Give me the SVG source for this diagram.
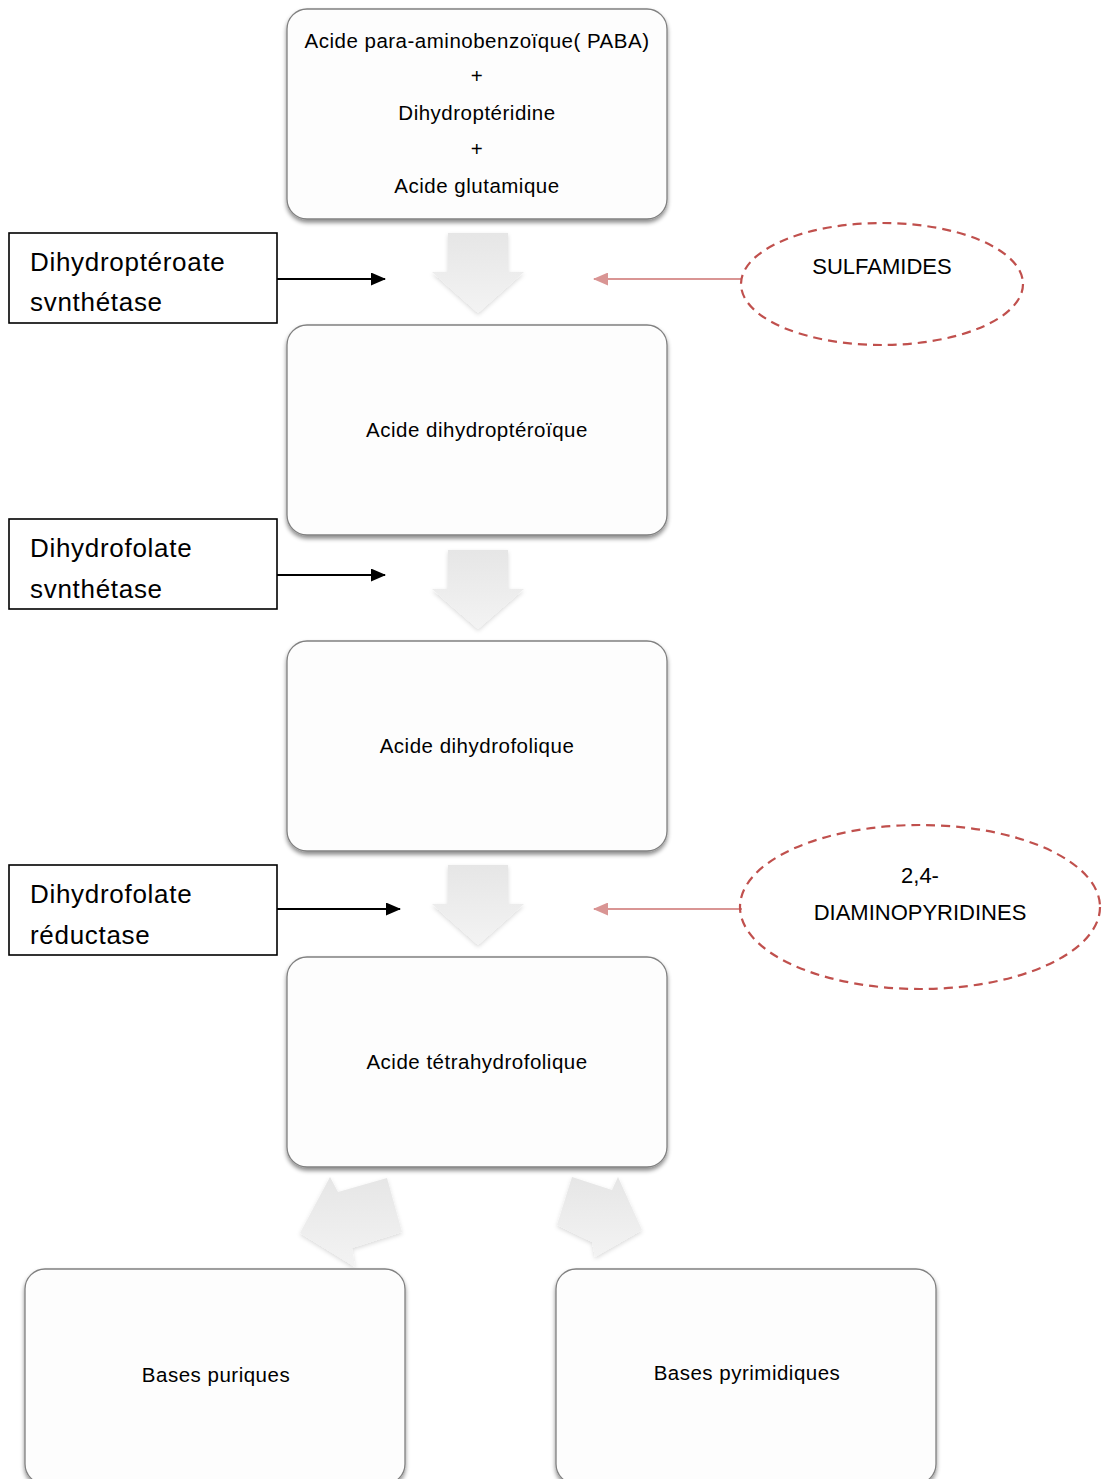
<svg xmlns="http://www.w3.org/2000/svg" width="1104" height="1479" viewBox="0 0 1104 1479">
<style>
.box{fill:#fdfdfd;stroke:#808080;stroke-width:1.3}
.bt{font-family:"Liberation Sans",Arial,sans-serif;font-size:20.5px;letter-spacing:0.5px;fill:#000;text-anchor:middle}
.lbl{fill:#fff;stroke:#000;stroke-width:1.6}
.lt{font-family:"Liberation Sans",Arial,sans-serif;font-size:26px;letter-spacing:0.7px;fill:#000}
.ell{fill:none;stroke:#c0504d;stroke-width:2.2;stroke-dasharray:9 6}
.et{font-family:"Liberation Sans",Arial,sans-serif;font-size:22px;fill:#000;text-anchor:middle}
.blk{stroke:#000;stroke-width:2;fill:none}
.pnk{stroke:#d99594;stroke-width:2.2;fill:none}
.barr{fill:url(#ag);filter:url(#sh2)}
</style>
<defs>
<filter id="sh" x="-5%" y="-5%" width="110%" height="115%">
<feDropShadow dx="0" dy="3" stdDeviation="2" flood-color="#000" flood-opacity="0.45"/>
</filter>
<filter id="sh2" x="-10%" y="-10%" width="130%" height="130%">
<feDropShadow dx="0" dy="2" stdDeviation="2" flood-color="#000" flood-opacity="0.15"/>
</filter>
<linearGradient id="ag" x1="0" y1="0" x2="0" y2="1">
<stop offset="0" stop-color="#e6e6e6"/>
<stop offset="1" stop-color="#f3f3f3"/>
</linearGradient>
<marker id="mb" markerWidth="15" markerHeight="13" refX="14" refY="6.5" orient="auto" markerUnits="userSpaceOnUse" viewBox="0 0 15 13">
<path d="M0,0 L15,6.5 L0,13 z" fill="#000"/>
</marker>
<marker id="mp" markerWidth="15" markerHeight="13" refX="14" refY="6.5" orient="auto" markerUnits="userSpaceOnUse" viewBox="0 0 15 13">
<path d="M0,0 L15,6.5 L0,13 z" fill="#d99594"/>
</marker>
</defs>

<g id="connectors">
<polygon class="barr" points="448,233 508,233 508,272 524,272 478,313 432,272 448,272"/>
<polygon class="barr" points="448,550 508,550 508,589 524,589 478,629 432,589 448,589"/>
<polygon class="barr" points="448,865 508,865 508,904 524,904 478,945 432,904 448,904"/>
<polygon class="barr" points="330,1177 338,1192 387,1178 402,1232 352,1248 355,1267 300,1233"/>
<polygon class="barr" points="572,1177 612,1190 618,1177 642,1230 595,1257 592,1242 557,1225"/>
<line class="blk" x1="277" y1="279" x2="385" y2="279" marker-end="url(#mb)"/>
<line class="blk" x1="277" y1="575" x2="385" y2="575" marker-end="url(#mb)"/>
<line class="blk" x1="277" y1="909" x2="400" y2="909" marker-end="url(#mb)"/>
<line class="pnk" x1="742" y1="279" x2="594" y2="279" marker-end="url(#mp)"/>
<line class="pnk" x1="742" y1="909" x2="594" y2="909" marker-end="url(#mp)"/>
</g>

<g id="n1">
<rect class="box" x="287" y="9" width="380" height="210" rx="20" filter="url(#sh)"/>
<text class="bt" x="477" y="48">Acide para-aminobenzoïque( PABA)</text>
<text class="bt" x="477" y="83">+</text>
<text class="bt" x="477" y="120">Dihydroptéridine</text>
<text class="bt" x="477" y="156">+</text>
<text class="bt" x="477" y="193">Acide glutamique</text>
</g>
<g id="n2">
<rect class="box" x="287" y="325" width="380" height="210" rx="20" filter="url(#sh)"/>
<text class="bt" x="477" y="437">Acide dihydroptéroïque</text>
</g>
<g id="n3">
<rect class="box" x="287" y="641" width="380" height="210" rx="20" filter="url(#sh)"/>
<text class="bt" x="477" y="753">Acide dihydrofolique</text>
</g>
<g id="n4">
<rect class="box" x="287" y="957" width="380" height="210" rx="20" filter="url(#sh)"/>
<text class="bt" x="477" y="1069">Acide tétrahydrofolique</text>
</g>
<g id="n5">
<rect class="box" x="25" y="1269" width="380" height="215" rx="20" filter="url(#sh)"/>
<text class="bt" x="216" y="1382">Bases puriques</text>
</g>
<g id="n6">
<rect class="box" x="556" y="1269" width="380" height="215" rx="20" filter="url(#sh)"/>
<text class="bt" x="747" y="1380">Bases pyrimidiques</text>
</g>

<g id="e1">
<rect class="lbl" x="9" y="233" width="268" height="90"/>
<text class="lt" x="30" y="271">Dihydroptéroate</text>
<text class="lt" x="30" y="311">svnthétase</text>
</g>
<g id="e2">
<rect class="lbl" x="9" y="519" width="268" height="90"/>
<text class="lt" x="30" y="557">Dihydrofolate</text>
<text class="lt" x="30" y="598">svnthétase</text>
</g>
<g id="e3">
<rect class="lbl" x="9" y="865" width="268" height="90"/>
<text class="lt" x="30" y="903">Dihydrofolate</text>
<text class="lt" x="30" y="944">réductase</text>
</g>

<g id="i1">
<ellipse class="ell" cx="882" cy="284" rx="141" ry="61"/>
<text class="et" x="882" y="274">SULFAMIDES</text>
</g>
<g id="i2">
<ellipse class="ell" cx="920" cy="907" rx="180" ry="82"/>
<text class="et" x="920" y="883">2,4-</text>
<text class="et" x="920" y="920">DIAMINOPYRIDINES</text>
</g>
</svg>
